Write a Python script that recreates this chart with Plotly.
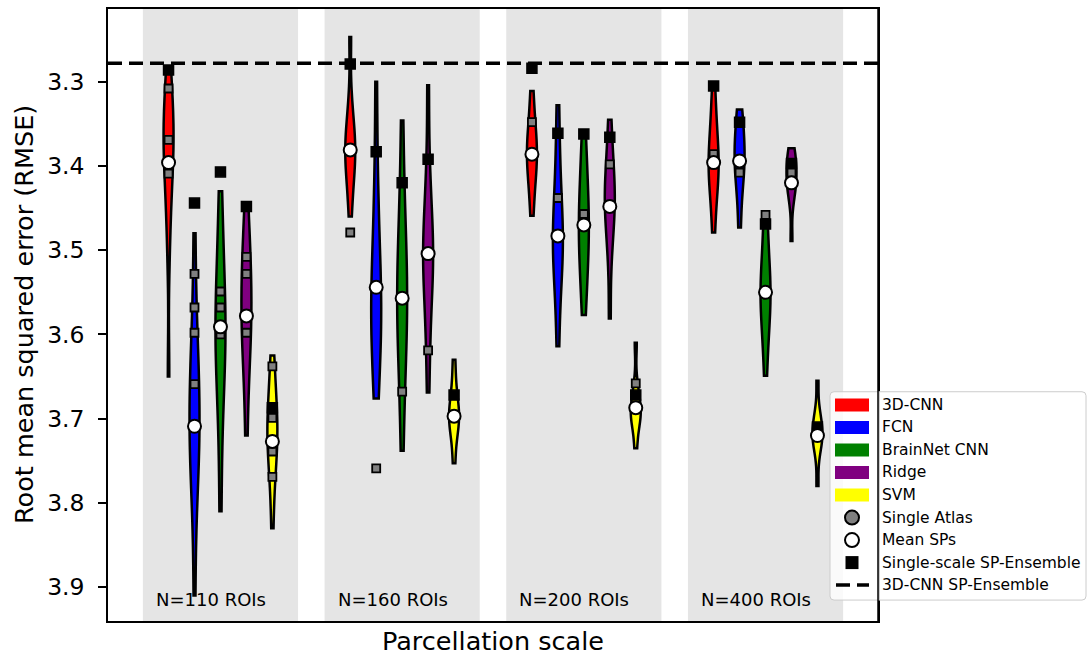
import plotly.graph_objects as go

# ---------------- data ----------------
scale_labels = ["N=110 ROIs", "N=160 ROIs", "N=200 ROIs", "N=400 ROIs"]
models = ["3D-CNN", "FCN", "BrainNet CNN", "Ridge", "SVM"]
model_colors = ["#ff0000", "#0000ff", "#008000", "#800080", "#ffff00"]

# RMSE of the individual SP models (violin distributions), one list per model
sp_rmse_110 = [
    [3.29, 3.31, 3.33, 3.35, 3.36, 3.37, 3.38, 3.40, 3.42, 3.45, 3.50, 3.65],
    [3.48, 3.58, 3.62, 3.64, 3.67, 3.69, 3.71, 3.72, 3.74, 3.77, 3.80, 3.91],
    [3.43, 3.48, 3.52, 3.55, 3.57, 3.59, 3.60, 3.62, 3.64, 3.67, 3.72, 3.81],
    [3.45, 3.49, 3.51, 3.53, 3.55, 3.57, 3.58, 3.60, 3.62, 3.65, 3.72],
    [3.625, 3.65, 3.67, 3.69, 3.70, 3.71, 3.72, 3.73, 3.74, 3.76, 3.78, 3.83],
]
sp_rmse_160 = [
    [3.247, 3.32, 3.35, 3.36, 3.37, 3.38, 3.39, 3.40, 3.41, 3.43, 3.46],
    [3.30, 3.40, 3.45, 3.49, 3.52, 3.54, 3.56, 3.57, 3.58, 3.60, 3.62, 3.65, 3.676],
    [3.346, 3.43, 3.47, 3.50, 3.53, 3.55, 3.56, 3.58, 3.60, 3.63, 3.67, 3.738],
    [3.304, 3.40, 3.44, 3.47, 3.49, 3.50, 3.51, 3.52, 3.54, 3.57, 3.61, 3.669],
    [3.630, 3.66, 3.68, 3.69, 3.695, 3.70, 3.71, 3.72, 3.753],
]
sp_rmse_200 = [
    [3.311, 3.34, 3.36, 3.37, 3.38, 3.39, 3.40, 3.41, 3.43, 3.459],
    [3.328, 3.39, 3.43, 3.46, 3.48, 3.49, 3.50, 3.52, 3.55, 3.614],
    [3.362, 3.39, 3.42, 3.44, 3.46, 3.47, 3.48, 3.50, 3.52, 3.54, 3.577],
    [3.345, 3.38, 3.40, 3.42, 3.43, 3.44, 3.45, 3.46, 3.48, 3.51, 3.581],
    [3.610, 3.66, 3.675, 3.685, 3.69, 3.695, 3.70, 3.71, 3.735],
]
sp_rmse_400 = [
    [3.305, 3.34, 3.36, 3.38, 3.39, 3.40, 3.41, 3.42, 3.44, 3.479],
    [3.333, 3.35, 3.365, 3.38, 3.39, 3.40, 3.41, 3.43, 3.473],
    [3.455, 3.48, 3.51, 3.53, 3.54, 3.55, 3.56, 3.57, 3.59, 3.61, 3.649],
    [3.379, 3.385, 3.395, 3.40, 3.41, 3.415, 3.42, 3.43, 3.44, 3.489],
    [3.655, 3.69, 3.70, 3.71, 3.715, 3.72, 3.725, 3.73, 3.745, 3.78],
]

# Single-atlas RMSE (grey markers), one list per model
single_atlas_110 = [[3.308, 3.369, 3.409], [3.528, 3.568, 3.598, 3.659],
                    [3.549, 3.568, 3.600], [3.508, 3.528, 3.598],
                    [3.638, 3.699, 3.739, 3.769]]
single_atlas_160 = [[3.479], [3.759], [3.668], [3.619], []]
single_atlas_200 = [[3.348], [3.438], [3.457], [3.398], [3.658]]
single_atlas_400 = [[3.386], [3.408], [3.458], [3.408], []]

# Mean over SPs (white circles)
mean_sp_110 = [3.396, 3.709, 3.591, 3.578, 3.727]
mean_sp_160 = [3.381, 3.544, 3.557, 3.504, 3.697]
mean_sp_200 = [3.386, 3.483, 3.470, 3.448, 3.687]
mean_sp_400 = [3.396, 3.394, 3.550, 3.420, 3.720]

# Single-scale SP-ensemble (black squares)
ensemble_110 = [3.286, 3.444, 3.407, 3.448, 3.687]
ensemble_160 = [3.279, 3.383, 3.420, 3.392, 3.672]
ensemble_200 = [3.284, 3.361, 3.362, 3.366, 3.672]
ensemble_400 = [3.305, 3.348, 3.469, 3.397, 3.710]

# 3D-CNN multi-scale SP-ensemble (dashed line)
cnn3d_sp_ensemble = 3.278

y_ticks = [3.3, 3.4, 3.5, 3.6, 3.7, 3.8, 3.9]

sp_rmse = [sp_rmse_110, sp_rmse_160, sp_rmse_200, sp_rmse_400]
single_atlas = [single_atlas_110, single_atlas_160, single_atlas_200, single_atlas_400]
mean_sp = [mean_sp_110, mean_sp_160, mean_sp_200, mean_sp_400]
ensemble = [ensemble_110, ensemble_160, ensemble_200, ensemble_400]

# ---------------- layout constants ----------------
W, H = 1087, 656
ML, MR, MT, MB = 108, 209, 7, 35
PW, PH = W - ML - MR, H - MT - MB
FONT = "DejaVu Sans"
OFFSET = 1.0 / 7.0
BAND_HALF = 0.427


def pos(g, m):
    return g + (m - 2) * OFFSET


def px(xp):
    return (xp - ML) / PW


def py(yp):
    return (H - MB - yp) / PH


fig = go.Figure()

# violins
for g in range(len(scale_labels)):
    for m in range(len(models)):
        fig.add_trace(go.Violin(
            y=sp_rmse[g][m], x0=pos(g, m), name=models[m],
            width=0.055, scalemode="width", spanmode="hard",
            points=False, box_visible=False, meanline_visible=False,
            fillcolor=model_colors[m], opacity=1,
            line=dict(color="black", width=2.5),
            showlegend=False, hoverinfo="skip",
        ))

# black squares (single-scale SP ensemble)
bx, by = [], []
for g in range(len(scale_labels)):
    for m in range(len(models)):
        bx.append(pos(g, m))
        by.append(ensemble[g][m])
fig.add_trace(go.Scatter(x=bx, y=by, mode="markers", showlegend=False,
                         marker=dict(symbol="square", size=10, color="black",
                                     line=dict(color="black", width=1.5))))

# grey squares (single atlas)
gx, gy = [], []
for g in range(len(scale_labels)):
    for m in range(len(models)):
        for v in single_atlas[g][m]:
            gx.append(pos(g, m))
            gy.append(v)
fig.add_trace(go.Scatter(x=gx, y=gy, mode="markers", showlegend=False,
                         marker=dict(symbol="square", size=8, color="#808080",
                                     line=dict(color="black", width=1.8))))

# white circles (mean SPs)
wx, wy = [], []
for g in range(len(scale_labels)):
    for m in range(len(models)):
        wx.append(pos(g, m))
        wy.append(mean_sp[g][m])
fig.add_trace(go.Scatter(x=wx, y=wy, mode="markers", showlegend=False,
                         marker=dict(symbol="circle", size=13, color="white",
                                     line=dict(color="black", width=2))))

shapes = []
# grey bands
for g in range(len(scale_labels)):
    shapes.append(dict(type="rect", xref="x", yref="paper", x0=g - BAND_HALF, x1=g + BAND_HALF,
                       y0=0, y1=1, fillcolor="#e5e5e5", line=dict(width=0), layer="below"))
# dashed ensemble line
shapes.append(dict(type="line", xref="paper", yref="y", x0=0, x1=1,
                   y0=cnn3d_sp_ensemble, y1=cnn3d_sp_ensemble,
                   line=dict(color="black", width=3.5, dash="14px,7px"), layer="above"))

# legend box (rounded)
lx0, lx1, ly0, ly1 = px(830), px(1086), py(600), py(391)
rx, ry = 4 / PW, 4 / PH
path = (f"M{lx0+rx},{ly0} L{lx1-rx},{ly0} Q{lx1},{ly0} {lx1},{ly0+ry} "
        f"L{lx1},{ly1-ry} Q{lx1},{ly1} {lx1-rx},{ly1} L{lx0+rx},{ly1} "
        f"Q{lx0},{ly1} {lx0},{ly1-ry} L{lx0},{ly0+ry} Q{lx0},{ly0} {lx0+rx},{ly0} Z")
shapes.append(dict(type="path", xref="paper", yref="paper", path=path,
                   fillcolor="rgba(255,255,255,0.8)", line=dict(color="#cccccc", width=1),
                   layer="above"))

row0, row_step = 404.2, 22.6
legend_labels = models + ["Single Atlas", "Mean SPs", "Single-scale SP-Ensemble",
                          "3D-CNN SP-Ensemble"]
annotations = []
for i, lab in enumerate(legend_labels):
    yc = row0 + i * row_step
    if i < 5:
        shapes.append(dict(type="rect", xref="paper", yref="paper",
                           x0=px(835), x1=px(869), y0=py(yc + 6.5), y1=py(yc - 6.5),
                           fillcolor=model_colors[i], line=dict(width=0), layer="above"))
    elif i in (5, 6):
        shapes.append(dict(type="circle", xref="paper", yref="paper",
                           xsizemode="pixel", ysizemode="pixel",
                           xanchor=px(852), yanchor=py(yc),
                           x0=-7, x1=7, y0=-7, y1=7,
                           fillcolor="#808080" if i == 5 else "white",
                           line=dict(color="black", width=2), layer="above"))
    elif i == 7:
        shapes.append(dict(type="rect", xref="paper", yref="paper",
                           xsizemode="pixel", ysizemode="pixel",
                           xanchor=px(852), yanchor=py(yc),
                           x0=-6.5, x1=6.5, y0=-6.5, y1=6.5,
                           fillcolor="black", line=dict(width=0), layer="above"))
    else:
        shapes.append(dict(type="line", xref="paper", yref="paper",
                           x0=px(836), x1=px(869), y0=py(yc), y1=py(yc),
                           line=dict(color="black", width=3.5, dash="14px,7px"),
                           layer="above"))
    annotations.append(dict(text=lab, xref="paper", yref="paper", x=px(880), y=py(yc),
                            xanchor="left", yanchor="middle", showarrow=False,
                            font=dict(family=FONT, size=15.5, color="black")))

# right frame line drawn over the legend
shapes.append(dict(type="line", xref="paper", yref="paper", x0=1, x1=1, y0=0, y1=1,
                   line=dict(color="black", width=1.5), layer="above"))

# scale labels
for g, lab in enumerate(scale_labels):
    annotations.append(dict(text=lab, xref="x", yref="y", x=g - 0.052, y=3.915,
                            xanchor="center", yanchor="middle", showarrow=False,
                            font=dict(family=FONT, size=18, color="black")))

# axis titles
annotations.append(dict(text="Parcellation scale", xref="paper", yref="paper",
                        x=0.5, y=py(641), xanchor="center", yanchor="middle",
                        showarrow=False, font=dict(family=FONT, size=25.5, color="black")))
annotations.append(dict(text="Root mean squared error (RMSE)", xref="paper", yref="paper",
                        x=px(24), y=0.5, xanchor="center", yanchor="middle", textangle=-90,
                        showarrow=False, font=dict(family=FONT, size=25.5, color="black")))

y_top = 3.3 - (80 - MT) / 845.0
y_bot = 3.3 + (H - MB - 80) / 845.0

fig.update_layout(
    width=W, height=H,
    margin=dict(l=ML, r=MR, t=MT, b=MB, pad=0),
    paper_bgcolor="white", plot_bgcolor="white",
    violinmode="overlay",
    showlegend=False,
    shapes=shapes, annotations=annotations,
    font=dict(family=FONT, color="black"),
    xaxis=dict(type="linear", range=[-0.619, 3.619], showticklabels=False, ticks="",
               showgrid=False, zeroline=False, showline=True, mirror=True,
               linecolor="black", linewidth=1.5),
    yaxis=dict(range=[y_bot, y_top], tickvals=y_ticks, ticktext=[f"{t:.1f}" for t in y_ticks],
               ticks="outside", ticklen=8, tickwidth=1.5, tickcolor="black",
               tickfont=dict(family=FONT, size=23.5, color="black"), ticklabelstandoff=9,
               showgrid=False, zeroline=False, showline=True, mirror=True,
               linecolor="black", linewidth=1.5),
)

fig.write_html("out.html")
